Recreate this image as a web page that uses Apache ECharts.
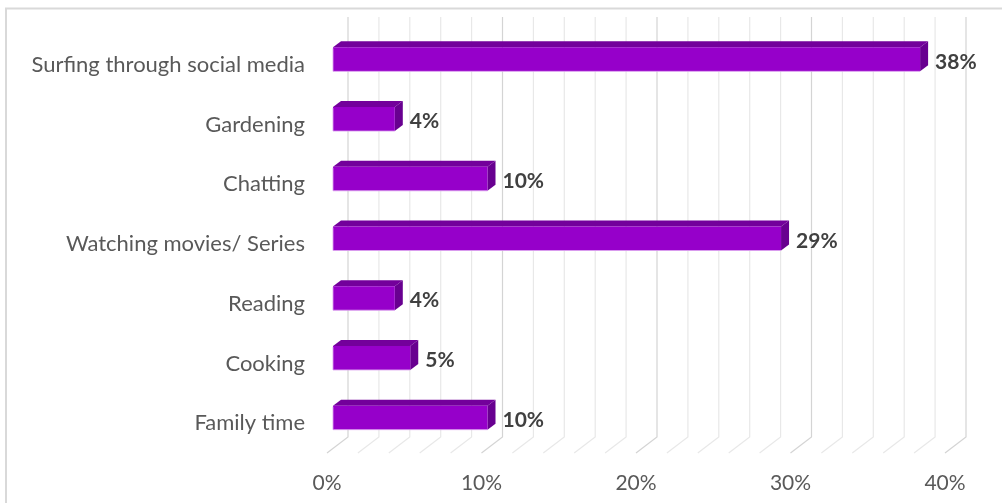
<!DOCTYPE html>
<html>
<head>
<meta charset="utf-8">
<script src="https://cdn.jsdelivr.net/npm/echarts@6/dist/echarts.min.js"></script>
<style>
  html, body { margin: 0; padding: 0; background: #ffffff; }
  #chart { width: 1002px; height: 503px; }
</style>
</head>
<body>
<div id="chart"></div>
<script>
// Leisure activities, share of respondents (%)
const categories = [
  'Surfing through social media',
  'Gardening',
  'Chatting',
  'Watching movies/ Series',
  'Reading',
  'Cooking',
  'Family time'
];
const shares = [38, 4, 10, 29, 4, 5, 10];

// value axis
const axisMin = 0;
const axisMax = 40;
const labelStep = 10;
const gridTicks = [0, 2, 4, 6, 8, 10, 12, 14, 16, 18, 20, 22, 24, 26, 28, 30, 32, 34, 36, 38, 40];

// pseudo-3D look
const FLOOR_DEPTH = [21, -16];   // front floor edge -> back wall
const WALL_TOP = 18;             // back wall rises above the plot top
const BAR_SHIFT = 6;             // bar front face sits a little behind the floor edge
const BAR_DEPTH = [8, -6];
const BAR_UP = 17.5, BAR_DOWN = 6.5;

const FONT = 'Lato, "Open Sans", sans-serif';

const chart = echarts.init(document.getElementById('chart'), null, { renderer: 'canvas' });

function renderGridLine(params, api) {
  const cs = params.coordSys;
  const t = api.value(0);
  const x = api.coord([t, 0])[0];
  const front = cs.y + cs.height;
  const major = t % labelStep === 0;
  return {
    type: 'polyline',
    silent: true,
    shape: {
      points: [
        [x + FLOOR_DEPTH[0], cs.y - WALL_TOP],
        [x + FLOOR_DEPTH[0], front + FLOOR_DEPTH[1]],
        [x, front]
      ]
    },
    style: { stroke: major ? '#d4d4d4' : '#e8e8e8', lineWidth: 1.2, fill: null }
  };
}

function renderBar(params, api) {
  const v = api.value(0);
  const cat = api.value(1);
  const p0 = api.coord([0, cat]);
  const p1 = api.coord([v, cat]);
  const xl = p0[0] + BAR_SHIFT;
  const xr = p1[0] + BAR_SHIFT;
  const yt = p0[1] - BAR_UP;
  const yb = p0[1] + BAR_DOWN;
  const dx = BAR_DEPTH[0], dy = BAR_DEPTH[1];
  return {
    type: 'group',
    children: [
      {
        type: 'polygon',
        shape: { points: [[xl, yt], [xr, yt], [xr + dx, yt + dy], [xl + dx, yt + dy]] },
        style: { fill: '#73009b' }
      },
      {
        type: 'polygon',
        shape: { points: [[xr, yt], [xr + dx, yt + dy], [xr + dx, yb + dy], [xr, yb]] },
        style: { fill: '#680090' }
      },
      {
        type: 'rect',
        shape: { x: xl, y: yt, width: xr - xl, height: yb - yt },
        style: { fill: '#9600ca' }
      },
      {
        // soft highlight along the lower and left edges of the front face
        type: 'polyline',
        shape: { points: [[xl, yt + 1], [xl, yb], [xr, yb]] },
        style: { stroke: 'rgba(220,160,240,0.85)', lineWidth: 1, fill: null }
      },
      {
        type: 'text',
        x: xr + 15,
        y: p0[1] - 3,
        style: {
          text: v + '%',
          fill: '#404040',
          font: 'bold 21px ' + FONT,
          textAlign: 'left',
          textVerticalAlign: 'middle'
        }
      }
    ]
  };
}

chart.setOption({
  backgroundColor: '#ffffff',
  animation: false,
  graphic: [
    {
      type: 'rect',
      silent: true,
      shape: { x: 6, y: 8.5, width: 1100, height: 600 },
      style: { fill: null, stroke: '#d9d9d9', lineWidth: 2 }
    }
  ],
  grid: { left: 327, right: 57, top: 35, bottom: 50, containLabel: false },
  xAxis: {
    type: 'value',
    min: axisMin,
    max: axisMax,
    interval: labelStep,
    axisLine: { show: false },
    axisTick: { show: false },
    splitLine: { show: false },
    axisLabel: {
      formatter: '{value}%',
      color: '#595959',
      fontSize: 21,
      fontFamily: FONT,
      margin: 20
    }
  },
  yAxis: {
    type: 'category',
    data: categories,
    inverse: true,
    axisLine: { show: false },
    axisTick: { show: false },
    splitLine: { show: false },
    axisLabel: {
      color: '#595959',
      fontSize: 22,
      fontFamily: FONT,
      margin: 22
    }
  },
  series: [
    {
      type: 'custom',
      name: 'grid',
      silent: true,
      z: 1,
      renderItem: renderGridLine,
      data: gridTicks.map(t => [t, 0]),
      encode: { x: 0, y: 1 }
    },
    {
      type: 'custom',
      name: 'Share',
      z: 5,
      renderItem: renderBar,
      data: shares.map((v, i) => [v, i]),
      encode: { x: 0, y: 1 }
    }
  ]
});
</script>
</body>
</html>
